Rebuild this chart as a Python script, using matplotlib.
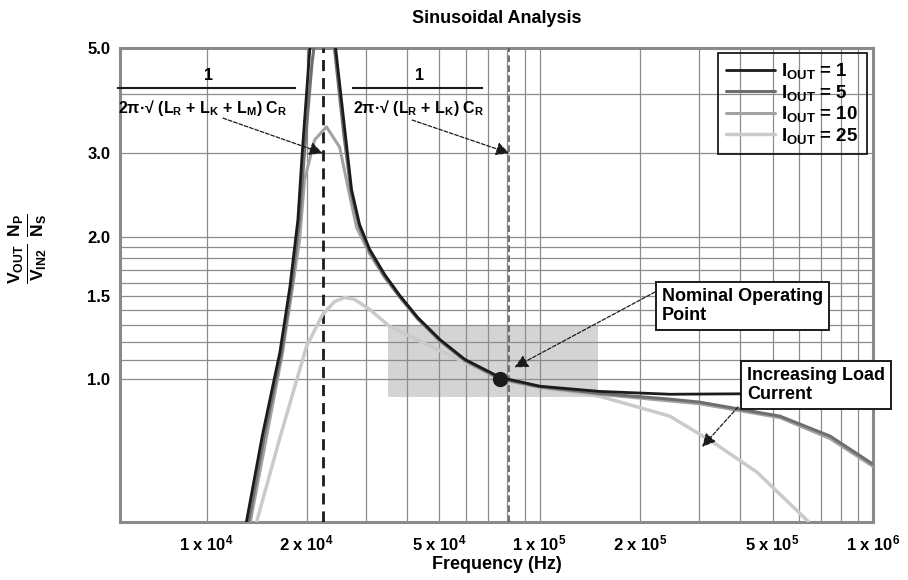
import matplotlib
matplotlib.use('Agg')
import matplotlib.pyplot as plt
from matplotlib.patches import Rectangle

plt.rcParams['font.family'] = ['Liberation Sans', 'DejaVu Sans']
plt.rcParams['font.weight'] = 'bold'
plt.rcParams['mathtext.fontset'] = 'custom'
plt.rcParams['mathtext.rm'] = 'Liberation Sans:bold'
plt.rcParams['mathtext.bf'] = 'Liberation Sans:bold'
plt.rcParams['mathtext.it'] = 'Liberation Sans:bold'

# gain curves, frequency in Hz
freq_1 = [1.31e4, 1.47e4, 1.66e4, 1.78e4, 1.88e4, 1.94e4, 2.04e4, 2.10e4, 2.41e4, 2.44e4,
          2.60e4, 2.725e4, 2.88e4, 3.087e4, 3.424e4, 3.80e4, 4.30e4, 5.01e4, 5.955e4, 7.59e4,
          1.0e5, 1.51e5, 2.46e5, 4.0e5, 1.0e6]
gain_1 = [0.49, 0.76, 1.14, 1.57, 2.17, 3.05, 4.95, 6.0, 5.45, 5.0,
          3.36, 2.51, 2.12, 1.88, 1.664, 1.503, 1.351, 1.214, 1.102, 1.01,
          0.967, 0.943, 0.930, 0.932, 0.925]

freq_5 = [1.33e4, 1.49e4, 1.68e4, 1.80e4, 1.90e4, 1.97e4, 2.07e4, 2.14e4, 2.38e4, 2.42e4,
          2.58e4, 2.72e4, 2.88e4, 3.087e4, 3.424e4, 3.80e4, 4.30e4, 5.01e4, 5.955e4, 7.59e4,
          1.0e5, 1.51e5, 2.46e5, 3.02e5, 5.26e5, 7.43e5, 1.0e6]
gain_5 = [0.49, 0.76, 1.14, 1.57, 2.17, 3.05, 4.6, 5.6, 5.6, 5.0,
          3.3, 2.47, 2.09, 1.86, 1.65, 1.495, 1.345, 1.21, 1.098, 1.005,
          0.965, 0.934, 0.908, 0.895, 0.836, 0.759, 0.662]

freq_10 = [1.346e4, 1.691e4, 1.813e4, 1.902e4, 1.969e4, 2.111e4, 2.29e4, 2.508e4, 2.688e4, 2.821e4,
           3.087e4, 3.424e4, 3.80e4, 4.30e4, 5.01e4, 5.955e4, 7.59e4, 1.0e5, 1.51e5, 2.46e5,
           3.02e5, 5.26e5, 7.43e5, 1.0e6]
gain_10 = [0.49, 1.14, 1.57, 1.97, 2.64, 3.20, 3.41, 3.09, 2.45, 2.09,
           1.84, 1.64, 1.49, 1.34, 1.205, 1.095, 1.0, 0.962, 0.93, 0.90,
           0.888, 0.83, 0.75, 0.655]

freq_25 = [1.394e4, 1.656e4, 1.996e4, 2.23e4, 2.423e4, 2.597e4, 2.783e4, 3.087e4, 3.544e4, 4.91e4,
           6.16e4, 7.59e4, 1.072e5, 1.514e5, 2.457e5, 3.307e5, 4.485e5, 6.38e5, 6.56e5]
gain_25 = [0.483, 0.748, 1.174, 1.37, 1.459, 1.488, 1.474, 1.404, 1.293, 1.157,
           1.075, 1.01, 0.953, 0.921, 0.836, 0.737, 0.637, 0.502, 0.483]

load_labels = ['I$_\\mathregular{OUT}$ = 1', 'I$_\\mathregular{OUT}$ = 5',
               'I$_\\mathregular{OUT}$ = 10', 'I$_\\mathregular{OUT}$ = 25']

# resonant frequencies and operating point
f_res_low = 2.23e4
f_res_high = 8.1e4
op_freq, op_gain = 7.6e4, 1.0
box_freq = [3.5e4, 1.5e5]
box_gain = [0.917, 1.30]

x_major = [1e4, 2e4, 5e4, 1e5, 2e5, 5e5, 1e6]
x_labels = ['1 x 10$^\\mathregular{4}$', '2 x 10$^\\mathregular{4}$', '5 x 10$^\\mathregular{4}$',
            '1 x 10$^\\mathregular{5}$', '2 x 10$^\\mathregular{5}$', '5 x 10$^\\mathregular{5}$',
            '1 x 10$^\\mathregular{6}$']
y_major = [1.0, 1.5, 2.0, 3.0, 5.0]
y_minor = [1.1, 1.2, 1.3, 1.4, 1.6, 1.7, 1.8, 1.9, 4.0]

fig = plt.figure(figsize=(9.08, 5.8), dpi=100)
ax = fig.add_axes([120/908, 58/580, 753/908, 474/580])
ax.set_xscale('log')
ax.set_yscale('log')
ax.set_xlim(5.5e3, 1e6)
ax.set_ylim(0.5, 5.0)

ax.set_xticks(x_major)
ax.set_xticklabels(x_labels)
ax.set_xticks([k * 10**e for e in (4, 5) for k in range(2, 10) if k not in (2, 5)], minor=True)
ax.xaxis.set_minor_formatter(plt.NullFormatter())
ax.set_yticks(y_major)
ax.set_yticklabels(['%.1f' % v for v in y_major])
ax.set_yticks(y_minor, minor=True)
ax.yaxis.set_minor_formatter(plt.NullFormatter())
ax.tick_params(which='both', length=0)
ax.tick_params(axis='x', labelsize=12, pad=8)
ax.tick_params(axis='y', labelsize=12, pad=7)
ax.set_axisbelow(True)
ax.grid(which='both', color='#8c8c8c', lw=0.9)
for s in ax.spines.values():
    s.set_color('#8a8a8a')
    s.set_linewidth(2.2)

ax.add_patch(Rectangle((box_freq[0], box_gain[0]), box_freq[1] - box_freq[0],
                       box_gain[1] - box_gain[0], facecolor='#d4d4d4', edgecolor='none', zorder=0.2))

ax.axvline(f_res_low, color='#1b1b1b', lw=2.0, ls=(0, (4, 2.5)), zorder=3)
ax.axvline(f_res_high, color='#5a5a5a', lw=1.2, ls=(0, (4, 2)), zorder=3)

colors = ['#1b1b1b', '#6e6e6e', '#a2a2a2', '#cacaca']
widths = [2.0, 2.2, 2.2, 2.5]
curves = [(freq_1, gain_1), (freq_5, gain_5), (freq_10, gain_10), (freq_25, gain_25)]
handles = []
for i, (f, g) in enumerate(curves):
    ln, = ax.plot(f, g, color=colors[i], lw=widths[i], zorder=8 - i,
                  solid_joinstyle='round', solid_capstyle='round')
    handles.append(ln)

ax.plot([op_freq], [op_gain], 'o', color='#1b1b1b', ms=10, zorder=9)

leg = ax.legend(handles, load_labels, loc='upper right', bbox_to_anchor=(0.992, 0.99),
                borderaxespad=0, fontsize=13.5, handlelength=2.6, labelspacing=0.08,
                handletextpad=0.35, borderpad=0.45, fancybox=False, framealpha=1,
                facecolor='none', edgecolor='#1b1b1b')
leg.get_frame().set_linewidth(1.3)

# resonance formulas above the peaks
frac_kw = dict(transform=ax.transAxes, fontsize=11.5, clip_on=False, zorder=10)
ax.text(0.117, 0.943, '1', ha='center', va='center', **frac_kw)
ax.plot([-0.003, 0.2324], [0.9156, 0.9156], color='#1b1b1b', lw=1.5, transform=ax.transAxes,
        clip_on=False, zorder=10)
ax.text(-0.002, 0.874, '2π·√ (L$_\\mathregular{R}$ + L$_\\mathregular{K}$ + L$_\\mathregular{M}$) C$_\\mathregular{R}$',
        ha='left', va='center', **frac_kw)
ax.text(0.398, 0.943, '1', ha='center', va='center', **frac_kw)
ax.plot([0.3094, 0.4807], [0.9156, 0.9156], color='#1b1b1b', lw=1.5, transform=ax.transAxes,
        clip_on=False, zorder=10)
ax.text(0.3094, 0.874, '2π·√ (L$_\\mathregular{R}$ + L$_\\mathregular{K}$) C$_\\mathregular{R}$',
        ha='left', va='center', **frac_kw)

arrow_kw = dict(arrowstyle='-|>', color='#1b1b1b', lw=0.9, ls=(0, (3, 1.5)), mutation_scale=20,
                shrinkA=0, shrinkB=0)
ax.annotate('', xy=(f_res_low, 3.0), xycoords='data', xytext=(0.1368, 0.852),
            textcoords='axes fraction', arrowprops=arrow_kw, zorder=10)
ax.annotate('', xy=(f_res_high, 3.0), xycoords='data', xytext=(0.388, 0.848),
            textcoords='axes fraction', arrowprops=arrow_kw, zorder=10)

box_kw = dict(boxstyle='square,pad=0.35', fc='white', ec='#1b1b1b', lw=1.4)
ax.text(0.7198, 0.4557, 'Nominal Operating\nPoint', transform=ax.transAxes, ha='left', va='center',
        fontsize=13, linespacing=1.15, bbox=box_kw, zorder=12)
ax.annotate('', xy=(8.4e4, 1.06), xycoords='data', xytext=(0.7105, 0.4852),
            textcoords='axes fraction', arrowprops=arrow_kw, zorder=11)
ax.text(0.8327, 0.289, 'Increasing Load\nCurrent', transform=ax.transAxes, ha='left', va='center',
        fontsize=13, linespacing=1.15, bbox=box_kw, zorder=12, clip_on=False)
ax.annotate('', xy=(3.07e5, 0.72), xycoords='data', xytext=(0.8207, 0.2426),
            textcoords='axes fraction', arrowprops=arrow_kw, zorder=11)

ax.set_title('Sinusoidal Analysis', fontsize=13, fontweight='bold', pad=18)
ax.set_xlabel('Frequency (Hz)', fontsize=13, fontweight='bold')
ax.xaxis.set_label_coords(0.5, -0.072)
ax.set_ylabel(r'$\mathbf{\frac{V_{OUT}}{V_{IN2}}\;\frac{N_P}{N_S}}$', fontsize=18)
ax.yaxis.set_label_coords(-0.094, 0.578)

fig.savefig('out.png', dpi=100)
